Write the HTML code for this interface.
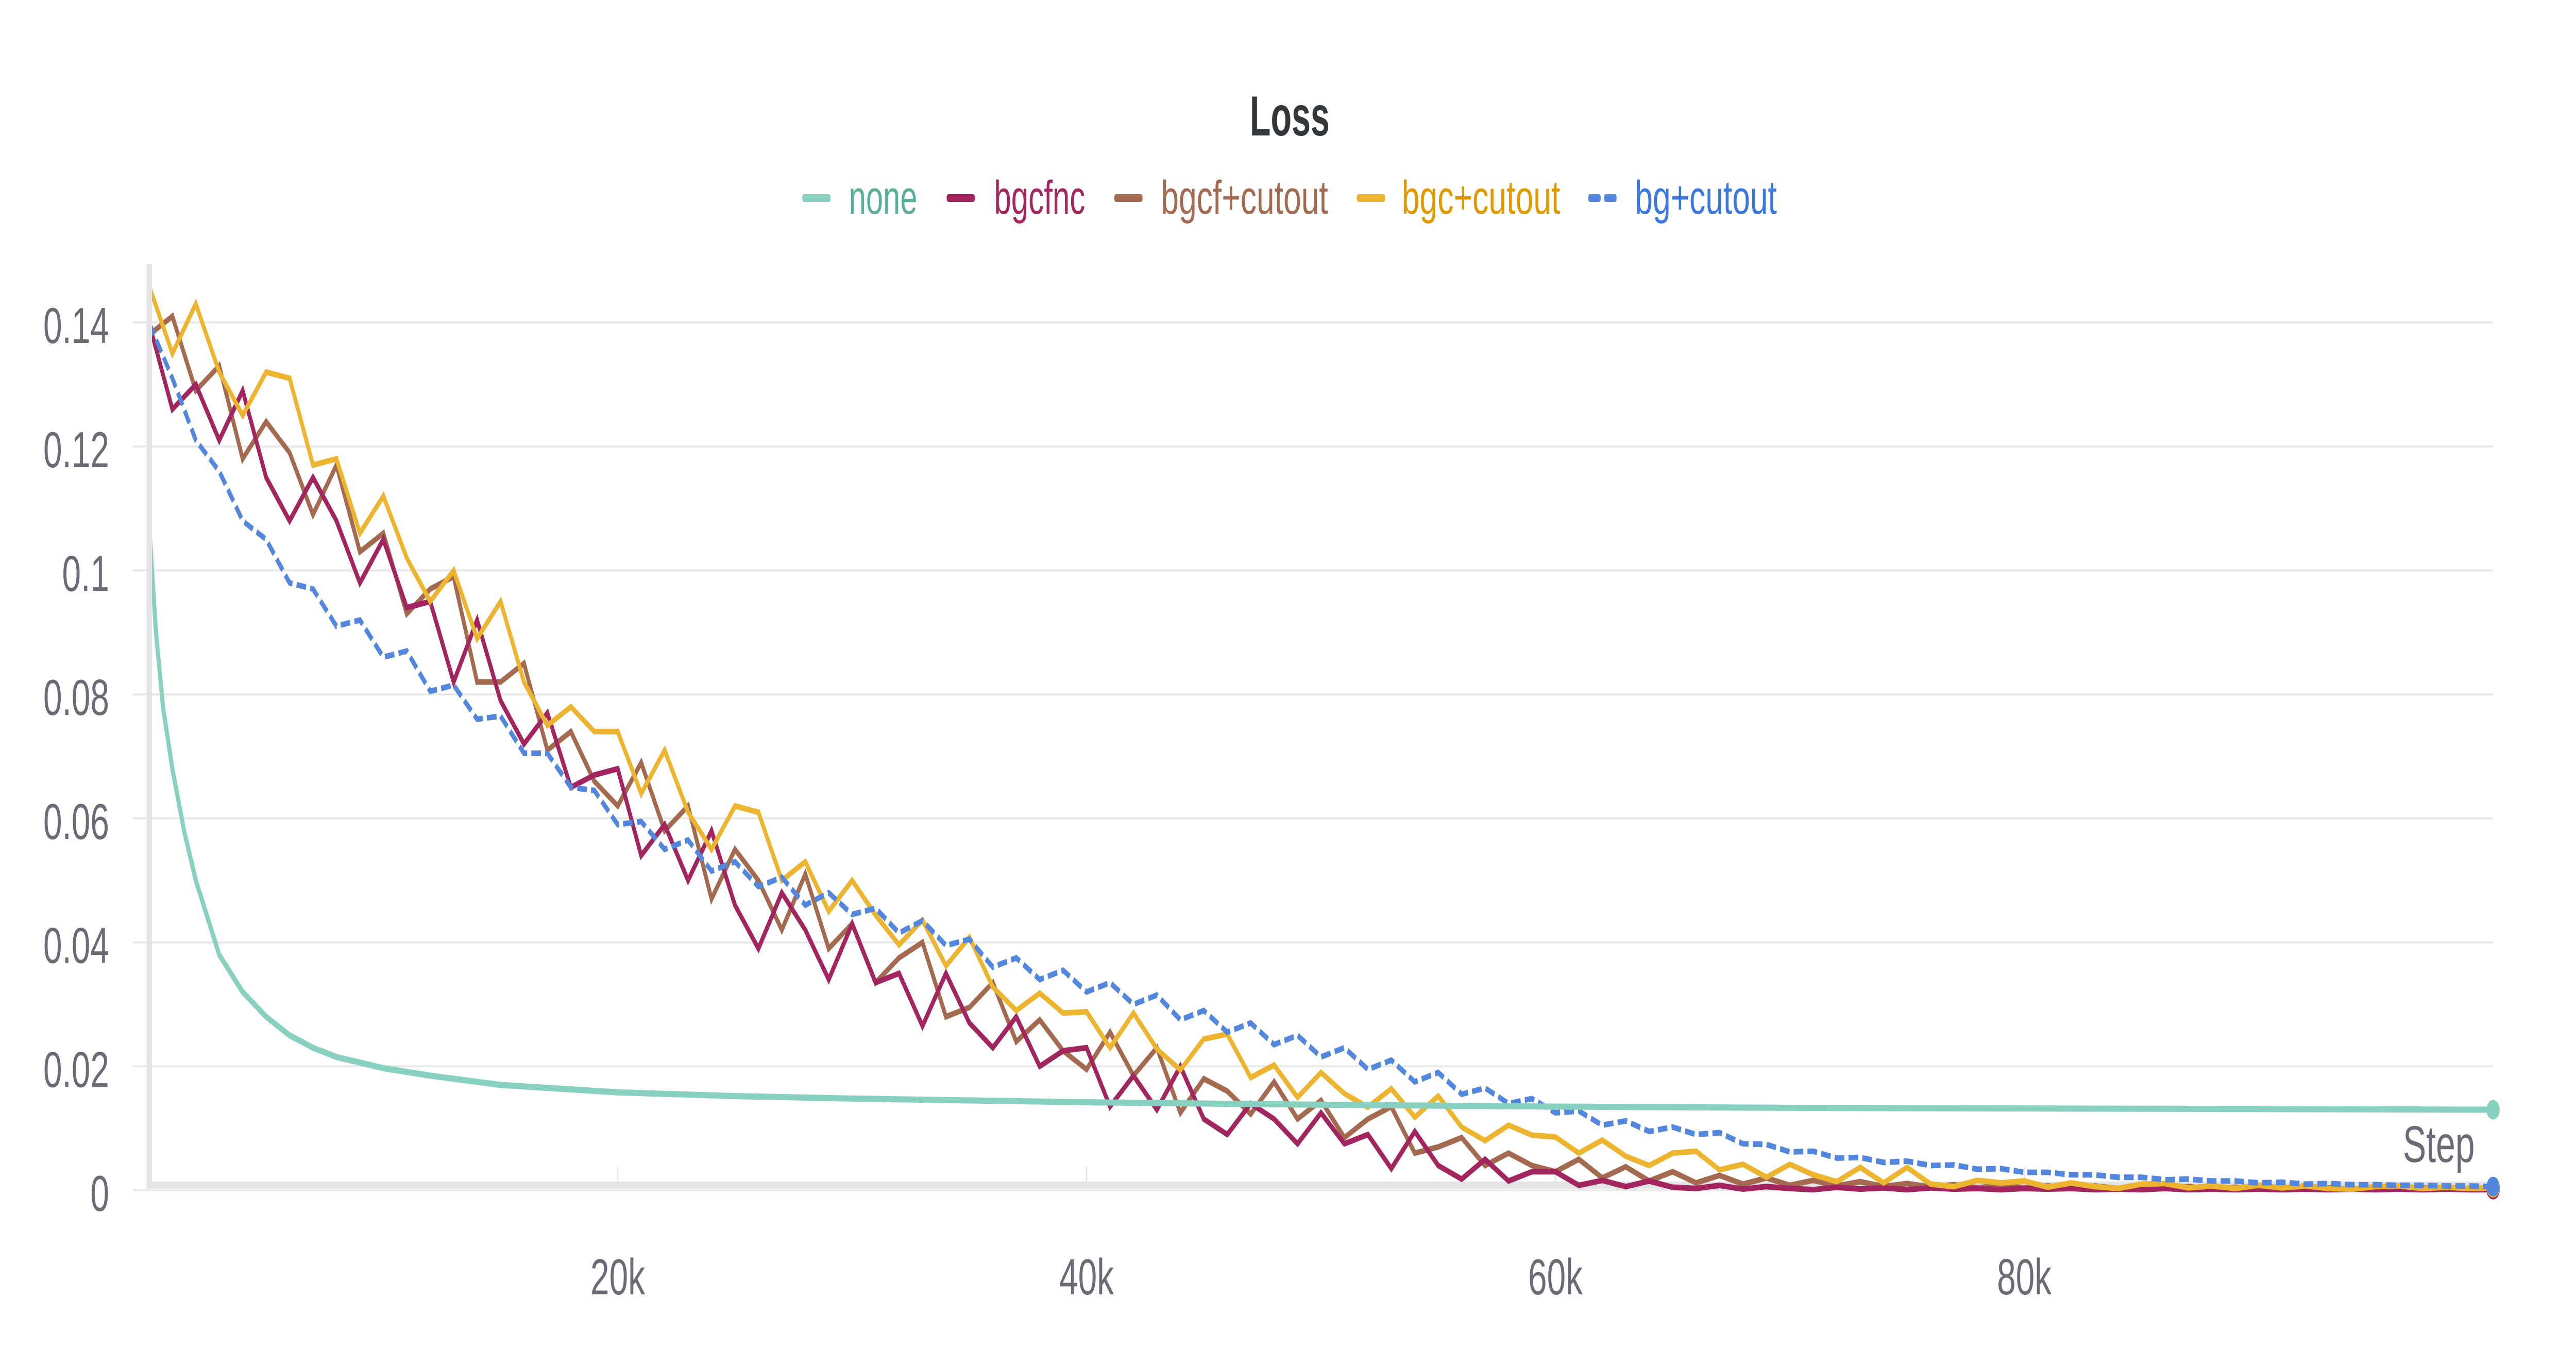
<!DOCTYPE html>
<html><head><meta charset="utf-8"><style>
html,body{margin:0;padding:0;background:#fff;overflow:hidden;width:100%;height:100%;}
svg{display:block;width:100vw;height:100vh;}
</style></head><body>
<svg id="chart" viewBox="0 0 7456 2656" preserveAspectRatio="none" xmlns="http://www.w3.org/2000/svg" font-family="'Liberation Sans', sans-serif">
  <defs><clipPath id="plotclip"><rect x="440" y="505" width="6800" height="1900"/></clipPath></defs>
  <text x="3733" y="263" text-anchor="middle" font-size="110" font-weight="bold" fill="#33373a" textLength="231" lengthAdjust="spacingAndGlyphs">Loss</text>
  <g id="legend"></g>
  <g id="grid"></g>
  <g id="axes"></g>
  <g id="series" clip-path="url(#plotclip)"></g>
  <g id="dots"></g>
  <text x="7163" y="2256" text-anchor="end" font-size="100" fill="#6b6b76" textLength="208" lengthAdjust="spacingAndGlyphs">Step</text>
</svg>
<script>
const NS='http://www.w3.org/2000/svg';
const yTicks=[0,0.02,0.04,0.06,0.08,0.1,0.12,0.14];
const yTickLabels=['0','0.02','0.04','0.06','0.08','0.1','0.12','0.14'];
const xTicks=[20000,40000,60000,80000];
const xTickLabels=['20k','40k','60k','80k'];
const seriesNames=['none','bgcfnc','bgcf+cutout','bgc+cutout','bg+cutout'];
const noneSteps=[0,300,600,1000,1500,2000,3000,4000,5000,6000,7000,8000,10000,12000,15000,20000,25000,30000,40000,50000,60000,70000,80000,90000,100000];
const noneVals=[0.108,0.090,0.078,0.068,0.058,0.050,0.038,0.032,0.028,0.025,0.023,0.0215,0.0197,0.0185,0.017,0.0158,0.0152,0.0148,0.0142,0.0138,0.0135,0.0133,0.0132,0.0131,0.0130];
const steps=[0,1000,2000,3000,4000,5000,6000,7000,8000,9000,10000,11000,12000,13000,14000,15000,16000,17000,18000,19000,20000,21000,22000,23000,24000,25000,26000,27000,28000,29000,30000,31000,32000,33000,34000,35000,36000,37000,38000,39000,40000,41000,42000,43000,44000,45000,46000,47000,48000,49000,50000,51000,52000,53000,54000,55000,56000,57000,58000,59000,60000,61000,62000,63000,64000,65000,66000,67000,68000,69000,70000,71000,72000,73000,74000,75000,76000,77000,78000,79000,80000,81000,82000,83000,84000,85000,86000,87000,88000,89000,90000,91000,92000,93000,94000,95000,96000,97000,98000,99000,100000];
const bgcfncVals=[0.140,0.126,0.130,0.121,0.129,0.115,0.108,0.115,0.108,0.098,0.105,0.094,0.095,0.082,0.092,0.079,0.072,0.077,0.065,0.067,0.068,0.054,0.059,0.050,0.058,0.046,0.039,0.048,0.042,0.034,0.043,0.0335,0.035,0.0265,0.035,0.027,0.023,0.028,0.020,0.0225,0.023,0.0135,0.0185,0.013,0.020,0.0115,0.009,0.014,0.0115,0.0075,0.0125,0.0075,0.009,0.0035,0.0095,0.004,0.0018,0.005,0.0015,0.003,0.003,0.0008,0.0016,0.0006,0.0015,0.0005,0.0003,0.0008,0.0002,0.0006,0.0003,0.0001,0.0005,0.0002,0.0004,0.0001,0.0004,0.0002,0.0003,0.0001,0.0003,0.0002,0.0003,0.0001,0.0002,0.0001,0.0003,0.0001,0.0002,0.0001,0.0002,0.0001,0.0002,0.0001,0.0002,0.0001,0.0002,0.0001,0.0002,0.0001,0.0001];
const bgcfVals=[0.138,0.141,0.129,0.133,0.118,0.124,0.119,0.109,0.117,0.103,0.106,0.093,0.097,0.099,0.082,0.082,0.085,0.071,0.074,0.066,0.062,0.069,0.058,0.062,0.047,0.055,0.050,0.042,0.051,0.039,0.043,0.0335,0.0375,0.040,0.028,0.0295,0.0335,0.024,0.0275,0.0225,0.0195,0.0255,0.0185,0.023,0.0125,0.018,0.016,0.0123,0.0175,0.0115,0.0145,0.0085,0.0115,0.0135,0.006,0.007,0.0085,0.004,0.006,0.004,0.003,0.005,0.002,0.0038,0.0015,0.003,0.0012,0.0024,0.001,0.002,0.0008,0.0016,0.0007,0.0014,0.0006,0.0011,0.0005,0.0009,0.0004,0.0008,0.0004,0.0007,0.0003,0.0007,0.0003,0.0006,0.0003,0.0006,0.0002,0.0005,0.0002,0.0005,0.0002,0.0004,0.0002,0.0004,0.0002,0.0004,0.0002,0.0003,0.0002];
const bgcVals=[0.146,0.135,0.143,0.132,0.125,0.132,0.131,0.117,0.118,0.106,0.112,0.102,0.095,0.100,0.089,0.095,0.082,0.075,0.078,0.074,0.074,0.064,0.071,0.061,0.055,0.062,0.061,0.050,0.053,0.045,0.050,0.0444,0.0396,0.0436,0.0362,0.0408,0.0328,0.029,0.0318,0.0286,0.0288,0.023,0.0286,0.0228,0.0194,0.0244,0.0252,0.0182,0.0202,0.015,0.019,0.0156,0.0134,0.0164,0.0118,0.0152,0.0102,0.008,0.0105,0.0089,0.0086,0.006,0.0081,0.0055,0.004,0.006,0.0063,0.0033,0.0042,0.0021,0.0042,0.0025,0.0014,0.0037,0.0012,0.0037,0.001,0.0006,0.0016,0.0012,0.0015,0.0005,0.0012,0.0006,0.0003,0.0010,0.0011,0.0004,0.0007,0.0003,0.0008,0.0004,0.0007,0.0003,0.0002,0.0006,0.0007,0.0003,0.0005,0.0003,0.0004];
const bgVals=[0.140,0.131,0.121,0.116,0.108,0.105,0.098,0.097,0.091,0.092,0.086,0.087,0.0805,0.0815,0.076,0.0765,0.0705,0.0705,0.065,0.0645,0.059,0.0595,0.055,0.0565,0.0515,0.053,0.049,0.0505,0.046,0.048,0.0445,0.0455,0.0415,0.0435,0.0395,0.0405,0.036,0.0375,0.034,0.0355,0.032,0.0335,0.030,0.0315,0.0275,0.029,0.0255,0.027,0.0235,0.025,0.0215,0.023,0.0195,0.021,0.0175,0.019,0.0155,0.0165,0.014,0.0148,0.0125,0.0128,0.0105,0.0112,0.0095,0.0102,0.009,0.0093,0.0075,0.0074,0.0062,0.0063,0.0052,0.0053,0.0045,0.0047,0.004,0.0041,0.0034,0.0035,0.0029,0.0029,0.0025,0.0025,0.0021,0.0021,0.0017,0.0018,0.0015,0.0015,0.0012,0.0013,0.0010,0.0011,0.0009,0.0009,0.0008,0.0008,0.0007,0.0007,0.0006];
const X0=431, XPX=1357/20000, Y0=2311, YPX=240.7/0.02;
function xs(v){return X0+v*XPX;}
function ys(v){return Y0-v*YPX;}
function mk(tag,attrs,parent){const e=document.createElementNS(NS,tag);for(const k in attrs)e.setAttribute(k,attrs[k]);parent.appendChild(e);return e;}
const grid=document.getElementById('grid'), axes=document.getElementById('axes');
yTicks.forEach((t,i)=>{
  const g=mk('line',{x1:384,x2:7216,y1:ys(t),y2:ys(t),stroke:'#e8e8e8','stroke-width':4},grid);
  
  
  const lb=mk('text',{x:316,y:ys(t)+40,'text-anchor':'end','font-size':98,fill:'#6b6b76'},axes);
  lb.textContent=yTickLabels[i];
  
  
});
xTicks.forEach((t,i)=>{
  const tk=mk('line',{x1:xs(t),x2:xs(t),y1:2266,y2:2300,stroke:'#e4e4e6','stroke-width':4},axes);
  
  
  const lb=mk('text',{x:xs(t),y:2513,'text-anchor':'middle','font-size':98,fill:'#6b6b76'},axes);
  lb.textContent=xTickLabels[i];
  
  
});
const ya=mk('rect',{x:424,y:512,width:16,height:1796,fill:'#e4e4e6'},axes);


const xa=mk('rect',{x:424,y:2294,width:6792,height:14,fill:'#e4e4e6'},axes);


const ser=document.getElementById('series'), dots=document.getElementById('dots');
function draw(sx,vals,color,w,name,dash){
  const pts=sx.map((s,i)=>xs(s).toFixed(1)+','+ys(vals[i]).toFixed(1)).join(' ');
  const a={points:pts,fill:'none',stroke:color,'stroke-width':w,'stroke-linejoin':'miter','stroke-miterlimit':10};
  if(dash)a['stroke-dasharray']=dash;
  const p=mk('polyline',a,ser);
  
  
  const n=vals.length-1;
  const d=mk('circle',{cx:xs(sx[n]),cy:ys(vals[n]),r:19,fill:color},dots);
  
  
}
draw(steps,bgcfVals,'#a36a4f',11,'bgcf-cutout');
draw(steps,bgcfncVals,'#a22560',11,'bgcfnc');
draw(steps,bgcVals,'#edb52f',11,'bgc-cutout');
draw(steps,bgVals,'#5387dd',11,'bg-cutout','28,12');
draw(noneSteps,noneVals,'#88d0bf',12,'none');
const legend=document.getElementById('legend');
const legText=['#5aae9b','#a22560','#a36a4f','#e09a00','#3a78de'];
const legMark=['#88d0bf','#a22560','#a36a4f','#edb52f','#5387dd'];
const markX=[2322,2740,3225,3927,4597];
const textX=[2457,2877,3360,4057,4732];
const textW=[198,264,484,459,411];
seriesNames.forEach((nm,i)=>{
  const g=mk('g',{},legend);
  
  
  if(i===4){
    mk('rect',{x:markX[i],y:377,width:36,height:15,rx:5,fill:legMark[i]},g);
    mk('rect',{x:markX[i]+46,y:377,width:36,height:15,rx:5,fill:legMark[i]},g);
  } else {
    mk('rect',{x:markX[i],y:377,width:82,height:15,rx:6,fill:legMark[i]},g);
  }
  const t=mk('text',{x:textX[i],y:415,'font-size':92,fill:legText[i],textLength:textW[i],lengthAdjust:'spacingAndGlyphs'},g);
  t.textContent=nm;
});
</script>
</body></html>
